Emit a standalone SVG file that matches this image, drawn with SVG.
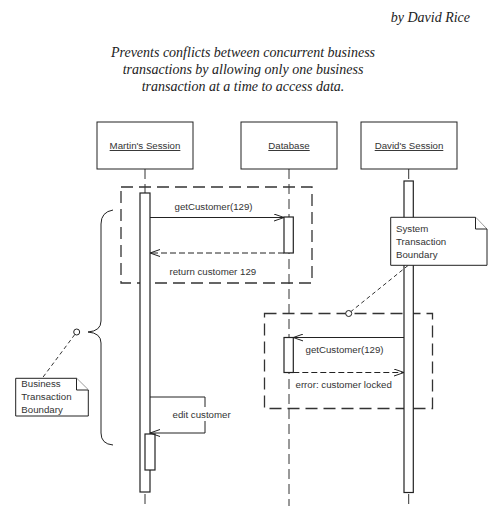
<svg xmlns="http://www.w3.org/2000/svg" width="504" height="524" viewBox="0 0 504 524">
<style>
.t{font-family:"Liberation Sans",Arial,sans-serif;font-size:9.7px;fill:#333}
.ti{font-family:"Liberation Serif","Times New Roman",serif;font-style:italic;font-size:14px;fill:#222}
.box{fill:#fff;stroke:#222;stroke-width:1}
.life{stroke:#333;stroke-width:1;stroke-dasharray:10,5;fill:none}
.act{fill:#fff;stroke:#222;stroke-width:1.2}
.msg{stroke:#222;stroke-width:1;fill:none}
.ret{stroke:#222;stroke-width:1;fill:none;stroke-dasharray:6,3}
.tx{fill:none;stroke:#333;stroke-width:1.3;stroke-dasharray:12,6}
.nl{fill:none;stroke:#333;stroke-width:1;stroke-dasharray:4,3}
.note{fill:#fff;stroke:#222;stroke-width:1}
</style>
<defs>
<marker id="oa" viewBox="0 0 10 8" refX="10" refY="4" markerWidth="10" markerHeight="8" markerUnits="userSpaceOnUse" orient="auto">
<path d="M0,0.5 L10,4 L0,7.5" fill="none" stroke="#222" stroke-width="1"/>
</marker>
</defs>
<rect width="504" height="524" fill="#fff"/>
<g id="title">
<text class="ti" x="470" y="22" text-anchor="end">by David Rice</text>
<text class="ti" x="243" y="57" text-anchor="middle">Prevents conflicts between concurrent business</text>
<text class="ti" x="243" y="74" text-anchor="middle">transactions by allowing only one business</text>
<text class="ti" x="243" y="91" text-anchor="middle">transaction at a time to access data.</text>
</g>
<g id="lifelines">
<line class="life" x1="145" y1="169" x2="145" y2="193"/>
<line class="life" x1="145" y1="494" x2="145" y2="506"/>
<line class="life" x1="289" y1="169" x2="289" y2="506"/>
<line class="life" x1="408.7" y1="169" x2="408.7" y2="181"/>
<line class="life" x1="408.7" y1="494" x2="408.7" y2="506"/>
</g>
<g id="martin">
<rect class="box" x="97" y="122" width="96" height="47"/>
<text class="t" x="145" y="149" text-anchor="middle" text-decoration="underline">Martin's Session</text>
</g>
<g id="database">
<rect class="box" x="241" y="122" width="96" height="47"/>
<text class="t" x="289" y="149" text-anchor="middle" text-decoration="underline">Database</text>
</g>
<g id="david">
<rect class="box" x="361" y="122" width="96" height="47"/>
<text class="t" x="409" y="149" text-anchor="middle" text-decoration="underline">David's Session</text>
</g>
<g id="tx1">
<rect class="tx" x="121" y="187" width="191" height="96"/>
</g>
<g id="tx2">
<rect class="tx" x="264.5" y="313.5" width="168" height="95"/>
</g>
<g id="activations">
<rect class="act" x="140" y="193" width="10" height="299"/>
<rect class="act" x="145" y="434" width="10" height="36"/>
<rect class="act" x="284" y="217" width="9.3" height="36"/>
<rect class="act" x="404" y="181" width="9.3" height="311.5"/>
<rect class="act" x="284" y="337.5" width="9.3" height="35"/>
</g>
<g id="connectors">
<line class="msg" x1="150" y1="217.5" x2="284" y2="217.5" marker-end="url(#oa)"/>
<line class="ret" x1="284" y1="253" x2="150" y2="253" marker-end="url(#oa)"/>
<polyline class="msg" points="150,397 205,397 205,433 150,433" marker-end="url(#oa)"/>
<line class="msg" x1="404" y1="337.5" x2="293.3" y2="337.5" marker-end="url(#oa)"/>
<line class="ret" x1="293.3" y1="372.5" x2="404" y2="372.5" marker-end="url(#oa)"/>
<line class="nl" x1="408" y1="265.5" x2="351" y2="311.5"/>
<line class="nl" x1="74.8" y1="334.5" x2="42" y2="378.5"/>
<path class="msg" d="M113,210 Q101,212 101,224 L101,321 Q101,331 88,332 Q101,333 101,343 L101,433 Q101,444 113,445"/>
<circle cx="348.7" cy="313.5" r="3" fill="#fff" stroke="#222" stroke-width="1"/>
<circle cx="76.7" cy="332" r="3" fill="#fff" stroke="#222" stroke-width="1"/>
</g>
<g id="labels">
<text class="t" x="174.5" y="209.5">getCustomer(129)</text>
<text class="t" x="169.5" y="275">return customer 129</text>
<rect x="170" y="407" width="63" height="14" fill="#fff"/>
<text class="t" x="172.5" y="418">edit customer</text>
<text class="t" x="305.5" y="352.5">getCustomer(129)</text>
<text class="t" x="295.5" y="388">error: customer locked</text>
</g>
<g id="note-system">
<path class="note" d="M390.7,217.3 H475.5 L487,229 V265.3 H390.7 Z"/>
<path class="note" d="M475.5,217.3 V229 H487"/>
<text class="t" x="396" y="232">System</text>
<text class="t" x="396" y="245">Transaction</text>
<text class="t" x="396" y="257.5">Boundary</text>
</g>
<g id="note-business">
<path class="note" d="M15.7,378.3 H76.5 L88.3,390 V416 H15.7 Z"/>
<path class="note" d="M76.5,378.3 V390 H88.3"/>
<text class="t" x="21.3" y="387">Business</text>
<text class="t" x="21.3" y="400">Transaction</text>
<text class="t" x="21.3" y="413">Boundary</text>
</g>
</svg>
